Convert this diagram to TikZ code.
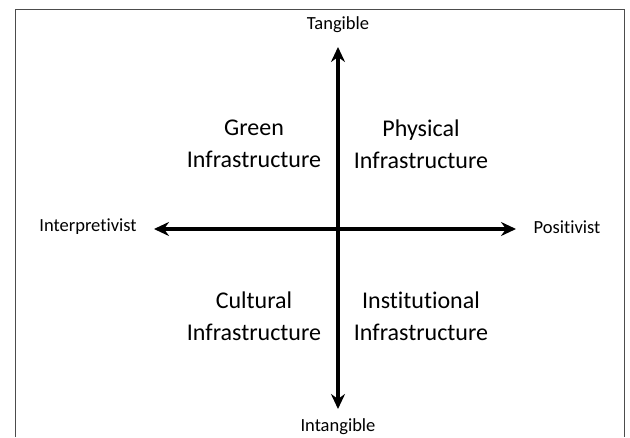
\documentclass[tikz,border=0pt]{standalone}
\usepackage{fontspec}
\setmainfont[Ligatures=NoCommon]{Carlito}
\usetikzlibrary{arrows.meta}
\tikzset{
  axislbl/.style={font=\fontsize{18.5}{22}\selectfont, inner sep=0pt},
  quadlbl/.style={font=\fontsize{24}{32}\selectfont, align=center, inner sep=0pt},
  axis/.style={line width=3.2pt, {Stealth[length=15pt,width=14pt,inset=5pt]}-{Stealth[length=15pt,width=14pt,inset=5pt]}},
  frame/.style={line width=1pt, draw=black!70}
}
\begin{document}
\begin{tikzpicture}[x=1pt,y=-1pt]
\useasboundingbox (0,0) rectangle (630,437);
\fill[white] (0,0) rectangle (630,437);
\draw[frame] (15,437) -- (15,9.5) -- (624.5,9.5) -- (624.5,437);
\coordinate (top) at (338,47);
\coordinate (bot) at (338,409);
\coordinate (left) at (154,229);
\coordinate (right) at (516,229);
\node[axislbl] (tang) at (338,25) {Tangible};
\node[axislbl] (intang) at (338,427) {Intangible};
\node[axislbl] (interp) at (88,227) {Interpretivist};
\node[axislbl] (pos) at (567,227) {Positivist};
\draw[axis] (bot) -- (top);
\draw[axis] (left) -- (right);
\node[quadlbl] (green) at (254,144) {Green\\Infrastructure};
\node[quadlbl] (phys) at (421,144) {Physical\\Infrastructure};
\node[quadlbl] (cult) at (254,316) {Cultural\\Infrastructure};
\node[quadlbl] (inst) at (421,316) {Institutional\\Infrastructure};
\end{tikzpicture}
\end{document}
